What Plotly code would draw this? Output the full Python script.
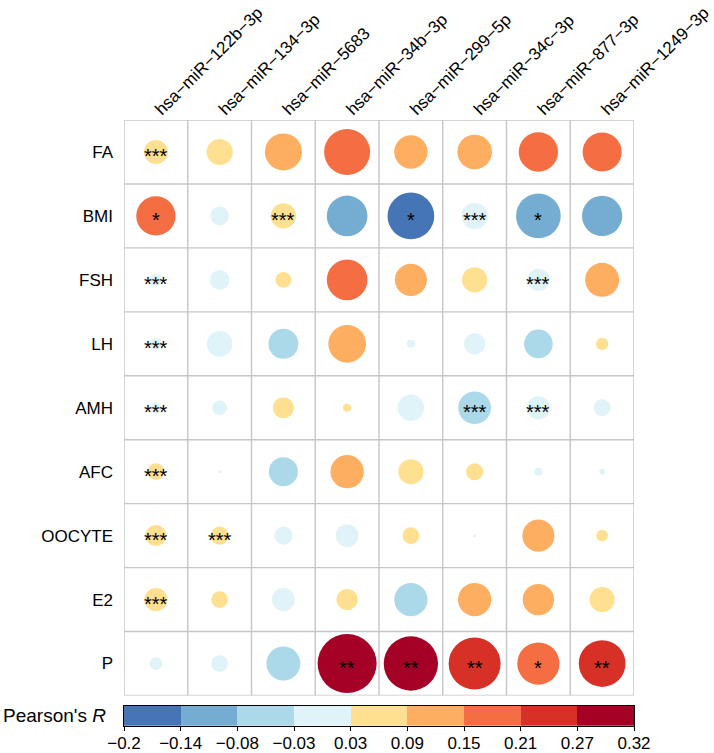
import numpy as np
import plotly.graph_objects as go

# ---------------- data ----------------
mirnas = ["hsa\u2212miR\u2212122b\u22123p", "hsa\u2212miR\u2212134\u22123p", "hsa\u2212miR\u22125683",
          "hsa\u2212miR\u221234b\u22123p", "hsa\u2212miR\u2212299\u22125p", "hsa\u2212miR\u221234c\u22123p",
          "hsa\u2212miR\u2212877\u22123p", "hsa\u2212miR\u22121249\u22123p"]
traits = ["FA", "BMI", "FSH", "LH", "AMH", "AFC", "OOCYTE", "E2", "P"]

# Pearson's R (colour)
r_values = [
    [0.053, 0.062, 0.127, 0.196, 0.103, 0.111, 0.153, 0.152],
    [0.160, -0.020, 0.059, -0.120, -0.190, -0.025, -0.130, -0.125],
    [-0.010, -0.020, 0.035, 0.180, 0.095, 0.059, -0.020, 0.107],
    [-0.010, -0.025, -0.070, 0.131, -0.005, -0.020, -0.065, 0.035],
    [-0.010, -0.015, 0.041, 0.032, -0.025, -0.075, -0.020, -0.020],
    [0.035, -0.001, -0.060, 0.103, 0.058, 0.040, -0.005, -0.003],
    [0.041, 0.035, -0.015, -0.020, 0.035, -0.001, 0.095, 0.035],
    [0.049, 0.035, -0.020, 0.042, -0.070, 0.103, 0.091, 0.058],
    [-0.015, -0.020, -0.070, 0.320, 0.290, 0.250, 0.170, 0.220],
]
# magnitude shown by circle area
size_values = [
    [0.053, 0.063, 0.127, 0.196, 0.103, 0.111, 0.143, 0.141],
    [0.143, 0.032, 0.059, 0.153, 0.202, 0.064, 0.185, 0.150],
    [0.014, 0.036, 0.023, 0.153, 0.095, 0.059, 0.046, 0.107],
    [0.013, 0.061, 0.083, 0.131, 0.006, 0.042, 0.076, 0.014],
    [0.011, 0.020, 0.041, 0.006, 0.064, 0.099, 0.049, 0.026],
    [0.026, 0.001, 0.078, 0.103, 0.058, 0.027, 0.006, 0.003],
    [0.041, 0.031, 0.031, 0.048, 0.026, 0.001, 0.095, 0.013],
    [0.049, 0.026, 0.049, 0.042, 0.103, 0.103, 0.091, 0.058],
    [0.015, 0.026, 0.107, 0.322, 0.273, 0.250, 0.165, 0.202],
]
stars = [
    ["***", "", "", "", "", "", "", ""],
    ["*", "", "***", "", "*", "***", "*", ""],
    ["***", "", "", "", "", "", "***", ""],
    ["***", "", "", "", "", "", "", ""],
    ["***", "", "", "", "", "***", "***", ""],
    ["***", "", "", "", "", "", "", ""],
    ["***", "***", "", "", "", "", "", ""],
    ["***", "", "", "", "", "", "", ""],
    ["", "", "", "**", "**", "**", "*", "**"],
]
breaks = [-0.2, -0.14, -0.08, -0.03, 0.03, 0.09, 0.15, 0.21, 0.27, 0.32]
break_labels = ["\u22120.2", "\u22120.14", "\u22120.08", "\u22120.03", "0.03", "0.09",
                "0.15", "0.21", "0.27", "0.32"]
palette = ["#4575B4", "#74ADD1", "#ABD9E9", "#E0F3F8", "#FEE090",
           "#FDAE61", "#F46D43", "#D73027", "#A50026"]

# ---------------- build ----------------
nb = len(palette)
cscale = []
for i, c in enumerate(palette):
    cscale.append([i / nb, c])
    cscale.append([(i + 1) / nb, c])

R = np.array(r_values)
S = np.array(size_values)
bin_idx = np.digitize(R, breaks[1:-1])

xs, ys, cs, ss = [], [], [], []
for i, t in enumerate(traits):
    for j, m in enumerate(mirnas):
        xs.append(m)
        ys.append(t)
        cs.append(bin_idx[i, j] + 0.5)
        ss.append(S[i, j])

FONT = "Liberation Sans, Arial, Helvetica, sans-serif"
DMAX = 59

fig = go.Figure()
fig.add_trace(go.Scatter(
    x=xs, y=ys, mode="markers",
    marker=dict(size=ss, sizemode="area", sizeref=2.0 * S.max() / DMAX ** 2,
                color=cs, colorscale=cscale, cmin=0, cmax=nb,
                line=dict(width=0), opacity=1),
    hoverinfo="skip", showlegend=False, xaxis="x", yaxis="y"))

# colour bar as a heatmap strip
fig.add_trace(go.Heatmap(
    z=[[k + 0.5 for k in range(nb)]], x=list(range(nb + 1)), y=[0, 1],
    colorscale=cscale, zmin=0, zmax=nb, showscale=False, hoverinfo="skip",
    xaxis="x2", yaxis="y2"))

# grid lines
GRID = "#C6C6C6"
for k in range(len(mirnas) + 1):
    fig.add_shape(type="line", xref="x", yref="y", x0=k - 0.5, x1=k - 0.5,
                  y0=-0.5, y1=len(traits) - 0.5, line=dict(color=GRID, width=1.4), layer="below")
for k in range(len(traits) + 1):
    fig.add_shape(type="line", xref="x", yref="y", x0=-0.5, x1=len(mirnas) - 0.5,
                  y0=k - 0.5, y1=k - 0.5, line=dict(color=GRID, width=1.4), layer="below")

# significance stars
for i, t in enumerate(traits):
    for j, m in enumerate(mirnas):
        if stars[i][j]:
            fig.add_annotation(x=j, y=i, xref="x", yref="y", text=stars[i][j],
                               showarrow=False, font=dict(family=FONT, size=20, color="black"),
                               xanchor="center", yanchor="middle", yshift=-4)

fig.add_annotation(x=0, y=0.5, xref="x2 domain", yref="y2 domain",
                   text="Pearson's <i>R</i>", showarrow=False, xanchor="right", yanchor="middle",
                   xshift=-16, font=dict(family=FONT, size=19, color="black"))

W, H = 714, 753
ML, MR, MT, MB = 124, 80, 120, 0
ph = H - MT - MB
main_bottom = (H - 695.5) / ph
cb_bottom = (H - 726) / ph
cb_top = (H - 705.7) / ph

fig.update_layout(
    width=W, height=H, margin=dict(l=ML, r=MR, t=MT, b=MB),
    paper_bgcolor="white", plot_bgcolor="white",
    font=dict(family=FONT, size=17, color="black"),
    xaxis=dict(type="category", categoryorder="array", categoryarray=mirnas,
               range=[-0.5, len(mirnas) - 0.5], side="top", tickangle=-45,
               showgrid=False, zeroline=False, showline=False, ticks="",
               ticklabelstandoff=-3,
               tickfont=dict(family=FONT, size=17, color="black"), automargin=False,
               domain=[0, 1], anchor="y"),
    yaxis=dict(type="category", categoryorder="array", categoryarray=traits,
               range=[len(traits) - 0.5, -0.5], showgrid=False, zeroline=False,
               showline=False, ticks="", ticklabelstandoff=10,
               tickfont=dict(family=FONT, size=17, color="black"), automargin=False,
               domain=[main_bottom, 1], anchor="x"),
    xaxis2=dict(range=[0, nb], tickmode="array", tickvals=list(range(nb + 1)),
                ticktext=break_labels, ticks="outside", ticklen=4, tickwidth=1,
                tickcolor="black", showline=True, linecolor="black", linewidth=1.2,
                mirror=True, showgrid=False, zeroline=False, automargin=False,
                ticklabelstandoff=-3,
                tickfont=dict(family=FONT, size=17, color="black"),
                domain=[0, 1], anchor="y2"),
    yaxis2=dict(range=[0, 1], showticklabels=False, ticks="", showline=True,
                linecolor="black", linewidth=1.2, mirror=True, showgrid=False,
                zeroline=False, automargin=False, domain=[cb_bottom, cb_top], anchor="x2"),
)

fig.write_html("out.html")
